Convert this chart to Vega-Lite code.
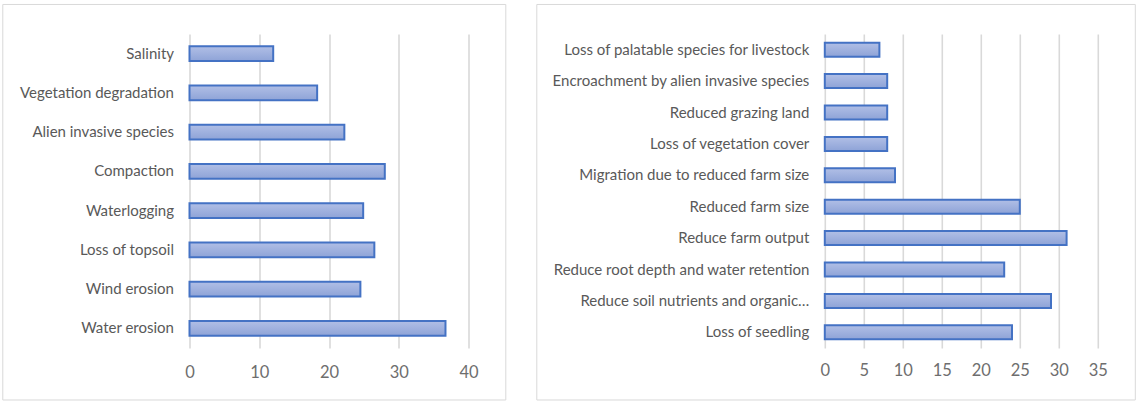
{
  "$schema": "https://vega.github.io/schema/vega-lite/v6.json",
  "background": "white",
  "padding": {"left": 1.5, "top": 3, "right": 0, "bottom": 0},
  "spacing": 356.3,
  "bounds": "flush",
  "datasets": {
    "left": [
      {"cause": "Salinity", "value": 12},
      {"cause": "Vegetation degradation", "value": 18.3},
      {"cause": "Alien invasive species", "value": 22.2},
      {"cause": "Compaction", "value": 28},
      {"cause": "Waterlogging", "value": 24.9},
      {"cause": "Loss of topsoil", "value": 26.5},
      {"cause": "Wind erosion", "value": 24.5},
      {"cause": "Water erosion", "value": 36.7}
    ],
    "right": [
      {"effect": "Loss of palatable species for livestock", "value": 7},
      {"effect": "Encroachment by alien invasive species", "value": 8},
      {"effect": "Reduced grazing land", "value": 8},
      {"effect": "Loss of vegetation cover", "value": 8},
      {"effect": "Migration due to reduced farm size", "value": 9},
      {"effect": "Reduced farm size", "value": 25},
      {"effect": "Reduce farm output", "value": 31},
      {"effect": "Reduce root depth and water retention", "value": 23},
      {"effect": "Reduce soil nutrients and organic…", "value": 29},
      {"effect": "Loss of seedling", "value": 24}
    ]
  },
  "hconcat": [
    {
      "width": 279,
      "height": 314,
      "layer": [
        {
          "data": {"values": [{}]},
          "mark": {"type": "rect", "filled": false, "stroke": "#d9d9d9", "strokeWidth": 1},
          "encoding": {
            "x": {"datum": -0.6692, "type": "quantitative", "scale": {"domain": [0, 1], "nice": false, "zero": false}, "axis": null},
            "x2": {"datum": 1.1337},
            "y": {"datum": -0.1656, "type": "quantitative", "scale": {"domain": [0, 1], "nice": false, "zero": false}, "axis": null},
            "y2": {"datum": 1.094}
          }
        },
        {
          "data": {"name": "left"},
          "mark": {
            "type": "bar",
            "stroke": "#4472c4",
            "strokeWidth": 2,
            "color": {"gradient": "linear", "x1": 0, "y1": 0, "x2": 0, "y2": 1,
              "stops": [{"offset": 0, "color": "#b1bfe6"}, {"offset": 1, "color": "#8ea3d7"}]}
          },
          "encoding": {
            "y": {"field": "cause", "type": "nominal", "sort": null,
              "scale": {"paddingInner": 0.618, "paddingOuter": 0.309},
              "axis": {"title": null, "domain": false, "ticks": false, "grid": false, "labelPadding": 16, "labelFontSize": 15, "labelColor": "#595959", "labelFont": "Lato", "labelLimit": 400}},
            "x": {"field": "value", "type": "quantitative",
              "scale": {"domain": [0, 40], "nice": false, "zero": true},
              "axis": {"title": null, "domain": false, "ticks": false, "grid": true, "gridColor": "#d9d9d9", "gridWidth": 1.6, "values": [0, 10, 20, 30, 40], "labelFlush": false, "labelFontSize": 16.5, "labelColor": "#6e6e6e", "labelFont": "Lato", "labelPadding": 16}}
          }
        }
      ],
      "resolve": {"scale": {"x": "independent", "y": "independent"}, "axis": {"x": "independent", "y": "independent"}}
    },
    {
      "width": 273,
      "height": 314,
      "layer": [
        {
          "data": {"values": [{}]},
          "mark": {"type": "rect", "filled": false, "stroke": "#d9d9d9", "strokeWidth": 1},
          "encoding": {
            "x": {"datum": -1.0549, "type": "quantitative", "scale": {"domain": [0, 1], "nice": false, "zero": false}, "axis": null},
            "x2": {"datum": 1.1374},
            "y": {"datum": -0.1656, "type": "quantitative", "scale": {"domain": [0, 1], "nice": false, "zero": false}, "axis": null},
            "y2": {"datum": 1.094}
          }
        },
        {
          "data": {"name": "right"},
          "mark": {
            "type": "bar",
            "stroke": "#4472c4",
            "strokeWidth": 2,
            "color": {"gradient": "linear", "x1": 0, "y1": 0, "x2": 0, "y2": 1,
              "stops": [{"offset": 0, "color": "#b1bfe6"}, {"offset": 1, "color": "#8ea3d7"}]}
          },
          "encoding": {
            "y": {"field": "effect", "type": "nominal", "sort": null,
              "scale": {"paddingInner": 0.554, "paddingOuter": 0.277},
              "axis": {"title": null, "domain": false, "ticks": false, "grid": false, "labelPadding": 16, "labelFontSize": 15, "labelColor": "#595959", "labelFont": "Lato", "labelLimit": 400}},
            "x": {"field": "value", "type": "quantitative",
              "scale": {"domain": [0, 35], "nice": false, "zero": true},
              "axis": {"title": null, "domain": false, "ticks": false, "grid": true, "gridColor": "#d9d9d9", "gridWidth": 1.6, "values": [0, 5, 10, 15, 20, 25, 30, 35], "labelFlush": false, "labelFontSize": 16.5, "labelColor": "#6e6e6e", "labelFont": "Lato", "labelPadding": 14}}
          }
        }
      ],
      "resolve": {"scale": {"x": "independent", "y": "independent"}, "axis": {"x": "independent", "y": "independent"}}
    }
  ],
  "config": {
    "view": {"stroke": null}
  }
}
